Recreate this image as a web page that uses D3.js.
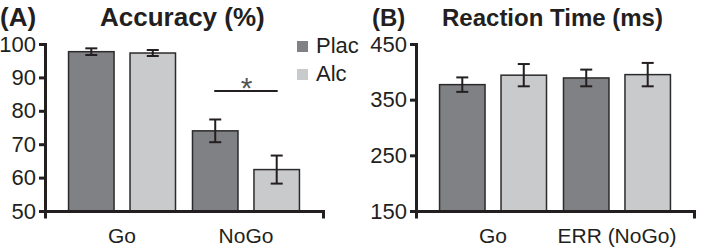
<!DOCTYPE html>
<html>
<head>
<meta charset="utf-8">
<script src="https://cdn.jsdelivr.net/npm/d3@7"></script>
<style>
  body { margin: 0; background: #fff; }
  svg { display: block; font-family: "Liberation Sans", Arial, sans-serif; }
  .axis path, .axis line { stroke: #231f20; stroke-width: 3; }
  .axis text { fill: #231f20; font-size: 22px; }
</style>
</head>
<body>
<script>
// data
var series = ["Plac", "Alc"];
var accGroups = ["Go", "NoGo"];
var accPlac = [97.7, 74.0];
var accAlc = [97.3, 62.4];
var accPlacErr = [1.0, 3.4];
var accAlcErr = [0.9, 4.2];
var accTicks = [50, 60, 70, 80, 90, 100];

var rtGroups = ["Go", "ERR (NoGo)"];
var rtPlac = [377, 389];
var rtAlc = [394, 395];
var rtPlacErr = [13, 15];
var rtAlcErr = [20, 21];
var rtTicks = [150, 250, 350, 450];

var colors = {Plac: "#808184", Alc: "#c9cacc"};

var svg = d3.select("body").append("svg")
    .attr("width", 709)
    .attr("height", 251);

function panel(opts) {
    var g = svg.append("g").attr("transform", "translate(" + opts.left + ",0)");
    var W = 278, top = 44, bottom = 211;

    var y = d3.scaleLinear().domain(opts.domain).range([bottom, top]);
    var x0 = d3.scaleBand().domain(opts.groups).range([0, W]).paddingInner(0.137).paddingOuter(0.19);
    var x1 = d3.scaleBand().domain(series).range([0, x0.bandwidth()]).paddingInner(0.26);

    var rows = [];
    opts.groups.forEach(function (grp, i) {
        rows.push({g: grp, s: "Plac", v: opts.plac[i], e: opts.placErr[i]});
        rows.push({g: grp, s: "Alc", v: opts.alc[i], e: opts.alcErr[i]});
    });

    // bars
    g.selectAll("rect.bar").data(rows).enter().append("rect")
        .attr("class", "bar")
        .attr("x", function (d) { return x0(d.g) + x1(d.s); })
        .attr("y", function (d) { return y(d.v); })
        .attr("width", x1.bandwidth())
        .attr("height", function (d) { return bottom - y(d.v); })
        .attr("fill", function (d) { return colors[d.s]; })
        .attr("stroke", "#2b2b2b")
        .attr("stroke-width", 1.5);

    // error bars
    var eb = g.selectAll("g.err").data(rows).enter().append("g")
        .attr("class", "err")
        .attr("stroke", "#231f20")
        .attr("stroke-width", 2);
    function cx(d) { return x0(d.g) + x1(d.s) + x1.bandwidth() / 2; }
    eb.append("line")
        .attr("x1", cx).attr("x2", cx)
        .attr("y1", function (d) { return y(d.v + d.e); })
        .attr("y2", function (d) { return y(d.v - d.e); });
    eb.append("line")
        .attr("x1", function (d) { return cx(d) - 6; }).attr("x2", function (d) { return cx(d) + 6; })
        .attr("y1", function (d) { return y(d.v + d.e); })
        .attr("y2", function (d) { return y(d.v + d.e); });
    eb.append("line")
        .attr("x1", function (d) { return cx(d) - 6; }).attr("x2", function (d) { return cx(d) + 6; })
        .attr("y1", function (d) { return y(d.v - d.e); })
        .attr("y2", function (d) { return y(d.v - d.e); });

    // axes
    g.append("g").attr("class", "axis")
        .attr("transform", "translate(0," + bottom + ")")
        .call(d3.axisBottom(x0).tickSizeInner(0).tickSizeOuter(6).tickPadding(17))
        .selectAll("text").style("font-size", "21px");
    g.append("g").attr("class", "axis")
        .call(d3.axisLeft(y).tickValues(opts.ticks).tickSizeInner(6).tickSizeOuter(0).tickPadding(3));

    g.selectAll(".axis .domain").attr("stroke-linecap", "square");

    // titles
    g.append("text")
        .attr("x", opts.labelX).attr("y", 25.5)
        .attr("font-weight", "bold").attr("font-size", opts.titleSize + "px")
        .attr("fill", "#231f20")
        .text(opts.label);
    g.append("text")
        .attr("x", opts.titleX).attr("y", 25.5)
        .attr("font-weight", "bold").attr("font-size", opts.titleSize + "px")
        .attr("fill", "#231f20")
        .text(opts.title);

    return {g: g, x0: x0, x1: x1, y: y};
}

var A = panel({
    left: 45, domain: [50, 100], groups: accGroups,
    plac: accPlac, alc: accAlc, placErr: accPlacErr, alcErr: accAlcErr,
    ticks: accTicks, label: "(A)", title: "Accuracy (%)",
    labelX: -45, titleX: 55, titleSize: 26
});

var B = panel({
    left: 416, domain: [150, 450], groups: rtGroups,
    plac: rtPlac, alc: rtAlc, placErr: rtPlacErr, alcErr: rtAlcErr,
    ticks: rtTicks, label: "(B)", title: "Reaction Time (ms)",
    labelX: -44, titleX: 26, titleSize: 24
});

// significance marker between NoGo bars
var nx = A.x0("NoGo");
var sigY = A.y(85.9);
A.g.append("line")
    .attr("x1", nx + A.x1("Plac") + A.x1.bandwidth() / 2 - 1)
    .attr("x2", nx + A.x1("Alc") + A.x1.bandwidth() / 2 + 1)
    .attr("y1", sigY).attr("y2", sigY)
    .attr("stroke", "#231f20").attr("stroke-width", 2);
A.g.append("text")
    .attr("x", nx + A.x0.bandwidth() / 2 + 0.5)
    .attr("y", sigY + 7)
    .attr("text-anchor", "middle")
    .attr("font-size", "30px")
    .attr("fill", "#555")
    .text("*");

// legend
var leg = svg.append("g").attr("transform", "translate(297,41)");
series.forEach(function (s, i) {
    leg.append("rect")
        .attr("x", 0).attr("y", i * 28)
        .attr("width", 11).attr("height", 11)
        .attr("fill", colors[s]);
    leg.append("text")
        .attr("x", 19).attr("y", i * 28 + 12)
        .attr("font-size", "22px")
        .attr("fill", "#231f20")
        .text(s);
});
</script>
</body>
</html>
